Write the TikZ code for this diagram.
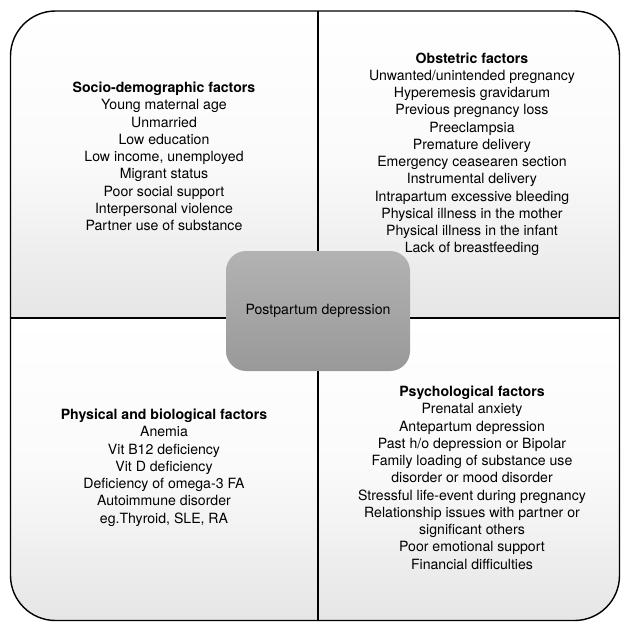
\documentclass[tikz,border=0pt]{standalone}
\usepackage{fontspec}
\setmainfont{TeX Gyre Heros}
\begin{document}
\begin{tikzpicture}[x=1pt,y=1pt,
  txt/.style={align=center,anchor=north,inner sep=0pt,font=\fontsize{14.1}{17.25}\selectfont,text=black},
  divider/.style={line width=1.6pt,black},
  halfshade/.style={top color=white,bottom color=black!10,middle color=white!98!black}]
\useasboundingbox (0,0) rectangle (621,-622);
\coordinate (TL) at (10.5,-11);
\coordinate (BR) at (619.5,-620.5);
\begin{scope}
  \clip[rounded corners=45pt] (TL) rectangle (BR);
  \shade[halfshade] (10,-10) rectangle (620,-318);
  \shade[halfshade] (10,-318) rectangle (620,-621);
\end{scope}
\coordinate (vt) at (318,-11);
\coordinate (vb) at (318,-620.5);
\coordinate (hl) at (10.5,-318);
\coordinate (hr) at (619.5,-318);
\draw[divider] (vt) -- (vb);
\draw[divider] (hl) -- (hr);
\draw[line width=1.4pt,black,rounded corners=45pt] (TL) rectangle (BR);
\shade[top color=black!30,bottom color=black!40,rounded corners=20pt] (226,-251) rectangle (410,-371);
\node[inner sep=0pt,font=\fontsize{14.1}{17.25}\selectfont,text=black] (ppd) at (318,-311) {Postpartum depression};
\node[txt] (socio) at (164,-82) {\textbf{Socio-demographic factors}\\Young maternal age\\Unmarried\\Low education\\Low income, unemployed\\Migrant status\\Poor social support\\Interpersonal violence\\Partner use of substance};
\node[txt] (obst) at (472,-52.5) {\textbf{Obstetric factors}\\Unwanted/unintended pregnancy\\Hyperemesis gravidarum\\Previous pregnancy loss\\Preeclampsia\\Premature delivery\\Emergency ceasearen section\\Instrumental delivery\\Intrapartum excessive bleeding\\Physical illness in the mother\\Physical illness in the infant\\Lack of breastfeeding};
\node[txt] (phys) at (164,-409) {\textbf{Physical and biological factors}\\Anemia\\Vit B12 deficiency\\Vit D deficiency\\Deficiency of omega-3 FA\\Autoimmune disorder\\eg.Thyroid, SLE, RA};
\node[txt] (psych) at (472,-386) {\textbf{Psychological factors}\\Prenatal anxiety\\Antepartum depression\\Past h/o depression or Bipolar\\Family loading of substance use\\disorder or mood disorder\\Stressful life-event during pregnancy\\Relationship issues with partner or\\significant others\\Poor emotional support\\Financial difficulties};
\end{tikzpicture}
\end{document}
